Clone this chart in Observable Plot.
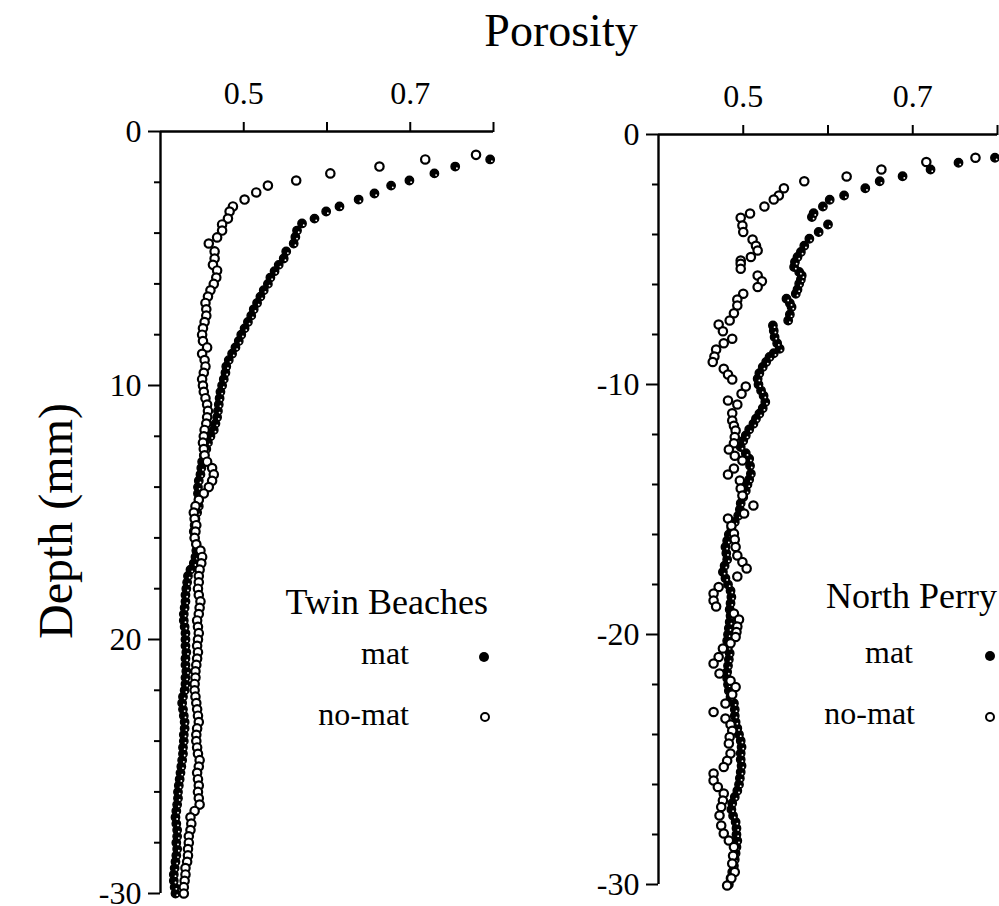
<!DOCTYPE html>
<html>
<head>
<meta charset="utf-8">
<script src="https://cdn.jsdelivr.net/npm/d3@7"></script>
<script src="https://cdn.jsdelivr.net/npm/@observablehq/plot@0.6"></script>
<style>
  html, body { margin: 0; padding: 0; background: #fff; }
  #page { position: relative; width: 999px; height: 906px; overflow: hidden; background: #fff;
          font-family: "Liberation Serif", "Times New Roman", serif; color: #000; }
  .abs { position: absolute; white-space: nowrap; line-height: 1; }
  .panel { position: absolute; top: 0; }
  .sym { position: absolute; width: 10px; height: 10px; border-radius: 50%; box-sizing: border-box; }
  .sym.filled { background: #000; }
  .sym.open { background: #fff; border: 2px solid #000; }
</style>
</head>
<body>
<div id="page">
  <div class="abs" id="title" style="left:461px; top:8px; width:200px; text-align:center; font-size:46px;"></div>
  <div class="abs" id="ylabel" style="left:-94px; top:497px; width:300px; height:48px; text-align:center; font-size:48px; transform:rotate(-90deg); transform-origin:50% 50%;"></div>
  <div class="panel" id="left" style="left:0px;"></div>
  <div class="panel" id="right" style="left:520px;"></div>
  <div class="abs" id="lg0t" style="left:188px; top:584px; width:300px; text-align:right; font-size:36px;"></div>
  <div class="abs" id="lg0a" style="left:209px; top:637px; width:200px; text-align:right; font-size:32px;"></div>
  <div class="abs" id="lg0b" style="left:209px; top:698px; width:200px; text-align:right; font-size:32px;"></div>
  <div class="sym filled" style="left:479px; top:652px;"></div>
  <div class="sym open" style="left:480px; top:712px;"></div>
  <div class="abs" id="lg1t" style="left:697px; top:578px; width:300px; text-align:right; font-size:36px;"></div>
  <div class="abs" id="lg1a" style="left:713px; top:636px; width:200px; text-align:right; font-size:32px;"></div>
  <div class="abs" id="lg1b" style="left:715px; top:697px; width:200px; text-align:right; font-size:32px;"></div>
  <div class="sym filled" style="left:985px; top:651px;"></div>
  <div class="sym open" style="left:985px; top:712px;"></div>
</div>
<script>
// ---------- text ----------
const titleText = "Porosity";
const yLabelText = "Depth (mm)";
const panelNames = ["Twin Beaches", "North Perry"];
const seriesNames = ["mat", "no-mat"];

// ---------- ticks ----------
const xTicks = [0.5, 0.6, 0.7, 0.8];
const xTickLabels = ["0.5", "", "0.7", ""];
const twinYTicks = [0, 10, 20, 30];
const twinYTickLabels = ["0", "10", "20", "-30"];
const twinYMinor = [2, 4, 6, 8, 12, 14, 16, 18, 22, 24, 26, 28];
const perryYTicks = [0, -10, -20, -30];
const perryYTickLabels = ["0", "-10", "-20", "-30"];
const perryYMinor = [-2, -4, -6, -8, -12, -14, -16, -18, -22, -24, -26, -28];

// ---------- data: [depth (mm), porosity] ----------
const twinMat = [
  [1.10,0.796],[1.38,0.754],[1.65,0.729],[1.93,0.699],[2.13,0.677],[2.44,0.657],[2.68,0.638],[2.95,0.615],
  [3.15,0.599],[3.43,0.585],[3.62,0.570],[3.90,0.564],[4.15,0.562],[4.41,0.560],[4.72,0.551],[5.00,0.548],
  [5.25,0.542],[5.50,0.537],[5.75,0.532],[6.00,0.529],[6.25,0.524],[6.50,0.520],[6.75,0.516],[7.00,0.512],
  [7.25,0.509],[7.50,0.505],[7.75,0.501],[8.00,0.497],[8.25,0.494],[8.50,0.490],[8.75,0.486],[9.00,0.482],
  [9.25,0.479],[9.50,0.478],[9.75,0.476],[10.0,0.474],[10.25,0.472],[10.5,0.471],[10.75,0.470],[11.0,0.469],
  [11.25,0.468],[11.5,0.466],[11.75,0.464],[12.0,0.460],[12.25,0.457],[12.5,0.455],[12.75,0.452],[13.0,0.450],
  [13.25,0.449],[13.5,0.448],[13.75,0.446],[14.0,0.445],[14.25,0.445],[14.5,0.446],[14.75,0.446],[15.0,0.444],
  [15.25,0.442],[15.5,0.441],[15.75,0.440],[16.0,0.441],[16.25,0.443],[16.5,0.443],[16.75,0.442],[17.0,0.440],
  [17.25,0.436],[17.5,0.433],[17.75,0.432],[18.0,0.431],[18.25,0.430],[18.5,0.430],[18.75,0.429],[19.0,0.428],
  [19.25,0.428],[19.5,0.429],[19.75,0.430],[20.0,0.430],[20.25,0.430],[20.5,0.431],[20.75,0.430],[21.0,0.430],
  [21.25,0.431],[21.5,0.430],[21.75,0.430],[22.0,0.429],[22.25,0.427],[22.5,0.426],[22.75,0.427],[23.0,0.428],
  [23.25,0.429],[23.5,0.429],[23.75,0.428],[24.0,0.428],[24.25,0.427],[24.5,0.427],[24.75,0.426],[25.0,0.425],
  [25.25,0.424],[25.5,0.423],[25.75,0.422],[26.0,0.421],[26.25,0.421],[26.5,0.420],[26.75,0.419],[27.0,0.418],
  [27.25,0.419],[27.5,0.420],[27.75,0.420],[28.0,0.419],[28.25,0.420],[28.5,0.419],[28.75,0.418],[29.0,0.417],
  [29.25,0.416],[29.5,0.416],[29.75,0.417],[30.0,0.418]
];
const twinNoMat = [
  [0.92,0.779],[1.10,0.718],[1.38,0.663],[1.65,0.604],[1.93,0.563],[2.13,0.529],[2.40,0.515],[2.68,0.501],
  [2.95,0.487],[3.15,0.483],[3.43,0.481],[3.66,0.474],[3.90,0.474],[4.17,0.468],[4.41,0.458],[4.72,0.465],
  [5.00,0.465],[5.25,0.463],[5.47,0.468],[5.75,0.467],[6.00,0.464],[6.25,0.460],[6.50,0.457],[6.75,0.454],
  [7.00,0.455],[7.25,0.455],[7.50,0.453],[7.75,0.451],[8.00,0.450],[8.25,0.451],[8.50,0.456],[8.75,0.450],
  [9.00,0.453],[9.25,0.454],[9.50,0.452],[9.75,0.450],[10.0,0.451],[10.25,0.452],[10.5,0.454],[10.75,0.456],
  [11.0,0.457],[11.25,0.456],[11.5,0.455],[11.75,0.453],[12.0,0.452],[12.25,0.451],[12.5,0.452],[12.75,0.453],
  [13.0,0.456],[13.25,0.462],[13.5,0.464],[13.75,0.462],[14.0,0.458],[14.25,0.452],[14.5,0.446],[14.75,0.442],
  [15.0,0.440],[15.25,0.441],[15.5,0.443],[15.75,0.442],[16.0,0.441],[16.25,0.443],[16.5,0.448],[16.75,0.450],
  [17.0,0.449],[17.25,0.447],[17.5,0.446],[17.75,0.446],[18.0,0.445],[18.25,0.446],[18.5,0.448],[18.75,0.447],
  [19.0,0.446],[19.25,0.444],[19.5,0.445],[19.75,0.446],[20.0,0.445],[20.25,0.444],[20.5,0.445],[20.75,0.444],
  [21.0,0.443],[21.25,0.442],[21.5,0.442],[21.75,0.441],[22.0,0.441],[22.25,0.442],[22.5,0.443],[22.75,0.444],
  [23.0,0.445],[23.25,0.446],[23.5,0.444],[23.75,0.443],[24.0,0.443],[24.25,0.444],[24.5,0.445],[24.75,0.447],
  [25.0,0.446],[25.25,0.444],[25.5,0.445],[25.75,0.446],[26.0,0.445],[26.25,0.446],[26.5,0.447],[26.75,0.441],
  [27.0,0.436],[27.25,0.437],[27.5,0.436],[27.75,0.434],[28.0,0.434],[28.25,0.433],[28.5,0.433],[28.75,0.432],
  [29.0,0.430],[29.25,0.430],[29.5,0.429],[29.75,0.428],[30.0,0.428]
];
const perryMat = [
  [0.93,0.797],[1.13,0.754],[1.40,0.721],[1.67,0.688],[1.87,0.661],[2.15,0.644],[2.44,0.619],[2.61,0.602],
  [2.88,0.594],[3.15,0.583],[3.30,0.581],[3.60,0.600],[3.90,0.589],[4.17,0.578],[4.45,0.572],[4.70,0.568],
  [4.90,0.564],[5.10,0.561],[5.30,0.560],[5.50,0.566],[5.64,0.569],[5.80,0.568],[5.97,0.566],[6.20,0.564],
  [6.37,0.562],[6.57,0.551],[6.75,0.555],[6.90,0.557],[7.20,0.555],[7.44,0.553],[7.64,0.535],[7.85,0.536],
  [8.10,0.537],[8.35,0.540],[8.57,0.543],[8.75,0.536],[8.90,0.531],[9.10,0.527],[9.30,0.523],[9.55,0.519],
  [9.77,0.517],[10.0,0.518],[10.24,0.521],[10.45,0.524],[10.70,0.526],[10.95,0.523],[11.17,0.519],[11.37,0.515],
  [11.57,0.512],[11.80,0.507],[12.04,0.503],[12.25,0.500],[12.50,0.497],[12.75,0.503],[12.97,0.507],[13.25,0.508],
  [13.57,0.509],[13.80,0.507],[14.0,0.505],[14.25,0.503],[14.5,0.500],[14.75,0.497],[15.0,0.496],[15.25,0.494],
  [15.5,0.490],[15.75,0.486],[16.0,0.483],[16.25,0.481],[16.5,0.479],[16.75,0.480],[17.0,0.481],[17.25,0.478],
  [17.5,0.476],[17.75,0.479],[18.0,0.482],[18.25,0.485],[18.5,0.486],[18.75,0.485],[19.0,0.484],[19.25,0.485],
  [19.5,0.484],[19.75,0.483],[20.0,0.482],[20.25,0.481],[20.5,0.482],[20.75,0.484],[21.0,0.483],[21.25,0.482],
  [21.5,0.481],[21.75,0.481],[22.0,0.482],[22.25,0.483],[22.5,0.485],[22.75,0.489],[23.0,0.490],[23.25,0.490],
  [23.5,0.491],[23.75,0.493],[24.0,0.495],[24.25,0.497],[24.5,0.498],[24.75,0.497],[25.0,0.497],[25.25,0.498],
  [25.5,0.497],[25.75,0.496],[26.0,0.495],[26.25,0.493],[26.5,0.490],[26.75,0.487],[27.0,0.486],[27.25,0.488],
  [27.5,0.491],[27.75,0.492],[28.0,0.492],[28.25,0.493],[28.5,0.492],[28.75,0.491],[29.0,0.490],[29.25,0.489],
  [29.5,0.487],[29.75,0.485],[30.0,0.483]
];
const perryNoMat = [
  [0.93,0.774],[1.10,0.716],[1.40,0.663],[1.68,0.622],[1.87,0.572],[2.15,0.548],[2.44,0.542],[2.60,0.536],
  [2.88,0.525],[3.16,0.508],[3.33,0.497],[3.64,0.499],[3.90,0.500],[4.20,0.511],[4.45,0.515],[4.64,0.517],
  [4.90,0.509],[5.04,0.497],[5.17,0.497],[5.37,0.497],[5.64,0.517],[5.87,0.522],[6.10,0.517],[6.37,0.500],
  [6.60,0.493],[6.84,0.493],[7.15,0.489],[7.44,0.484],[7.60,0.471],[7.87,0.476],[8.17,0.487],[8.35,0.477],
  [8.60,0.468],[8.88,0.466],[9.10,0.464],[9.37,0.477],[9.60,0.482],[9.80,0.487],[10.08,0.503],[10.37,0.498],
  [10.64,0.482],[10.80,0.493],[11.15,0.487],[11.44,0.487],[11.65,0.489],[11.84,0.491],[12.10,0.490],[12.35,0.489],
  [12.60,0.483],[12.85,0.490],[13.04,0.499],[13.36,0.489],[13.60,0.482],[13.84,0.496],[14.16,0.497],[14.44,0.499],
  [14.84,0.512],[15.16,0.501],[15.36,0.482],[15.65,0.486],[15.96,0.489],[16.20,0.490],[16.50,0.491],[16.84,0.493],
  [17.10,0.499],[17.36,0.504],[17.68,0.493],[18.10,0.471],[18.36,0.465],[18.64,0.465],[18.88,0.468],[19.16,0.489],
  [19.40,0.495],[19.68,0.493],[19.90,0.492],[20.10,0.491],[20.35,0.485],[20.56,0.476],[20.90,0.471],[21.16,0.465],
  [21.56,0.472],[21.85,0.485],[22.10,0.491],[22.40,0.487],[22.76,0.479],[23.10,0.465],[23.36,0.479],[23.60,0.485],
  [23.85,0.487],[24.10,0.484],[24.36,0.483],[24.76,0.485],[25.05,0.481],[25.30,0.477],[25.56,0.465],[25.84,0.465],
  [26.10,0.470],[26.36,0.477],[26.64,0.476],[26.90,0.474],[27.24,0.472],[27.64,0.474],[27.96,0.477],[28.24,0.483],
  [28.50,0.489],[28.85,0.488],[29.16,0.487],[29.50,0.490],[29.75,0.486],[30.04,0.481]
];

// ---------- drawing ----------
const xDomain = [0.4, 0.8];
const baseStyle = {fontFamily: "'Liberation Serif', 'Times New Roman', serif", fontSize: "32px", color: "#000", background: "transparent", overflow: "visible"};
const DOT_R = 4.2;

function panel({width, height, mL, mR, mT, mB, yDomain, reverse, sign, yTicks, yLabels, yMinor, mat, noMat}) {
  const X = d => d[1];
  const Y = d => sign * d[0];
  return Plot.plot({
    width, height,
    marginLeft: mL, marginRight: mR, marginTop: mT, marginBottom: mB,
    style: baseStyle,
    x: {domain: xDomain},
    y: {domain: yDomain, reverse},
    marks: [
      Plot.axisX(xTicks, {anchor: "top", tickSize: 10, tickPadding: 18, strokeWidth: 2,
        tickFormat: d => xTickLabels[xTicks.indexOf(d)], label: null}),
      Plot.axisY(yTicks, {anchor: "left", tickSize: 12, tickPadding: 7, strokeWidth: 2,
        tickFormat: d => yLabels[yTicks.indexOf(d)], label: null}),
      Plot.axisY(yMinor, {anchor: "left", tickSize: 6, strokeWidth: 2, tickFormat: () => "", label: null}),
      Plot.ruleX([xDomain[0]], {strokeWidth: 2.4}),
      Plot.ruleY([0], {strokeWidth: 2.4}),
      Plot.dot(mat, {x: X, y: Y, r: DOT_R, fill: "#000", stroke: "#000", strokeWidth: 1.4}),
      Plot.dot(mat, {x: X, y: Y, r: 0.9, fill: "#fff", stroke: "none", dx: 1.7, dy: 1.7}),
      Plot.dot(noMat, {x: X, y: Y, r: DOT_R, fill: "#fff", stroke: "#000", strokeWidth: 2.2})
    ]
  });
}

document.getElementById("left").append(panel({
  width: 520, height: 906, mL: 160, mR: 27, mT: 131, mB: 13,
  yDomain: [0, 30], reverse: true, sign: 1,
  yTicks: twinYTicks, yLabels: twinYTickLabels, yMinor: twinYMinor,
  mat: twinMat, noMat: twinNoMat
}));
document.getElementById("right").append(panel({
  width: 479, height: 906, mL: 138, mR: 2, mT: 134, mB: 22,
  yDomain: [-30, 0], reverse: false, sign: -1,
  yTicks: perryYTicks, yLabels: perryYTickLabels, yMinor: perryYMinor,
  mat: perryMat, noMat: perryNoMat
}));

document.getElementById("title").textContent = titleText;
document.getElementById("ylabel").textContent = yLabelText;
document.getElementById("lg0t").textContent = panelNames[0];
document.getElementById("lg0a").textContent = seriesNames[0];
document.getElementById("lg0b").textContent = seriesNames[1];
document.getElementById("lg1t").textContent = panelNames[1];
document.getElementById("lg1a").textContent = seriesNames[0];
document.getElementById("lg1b").textContent = seriesNames[1];
</script>
</body>
</html>
